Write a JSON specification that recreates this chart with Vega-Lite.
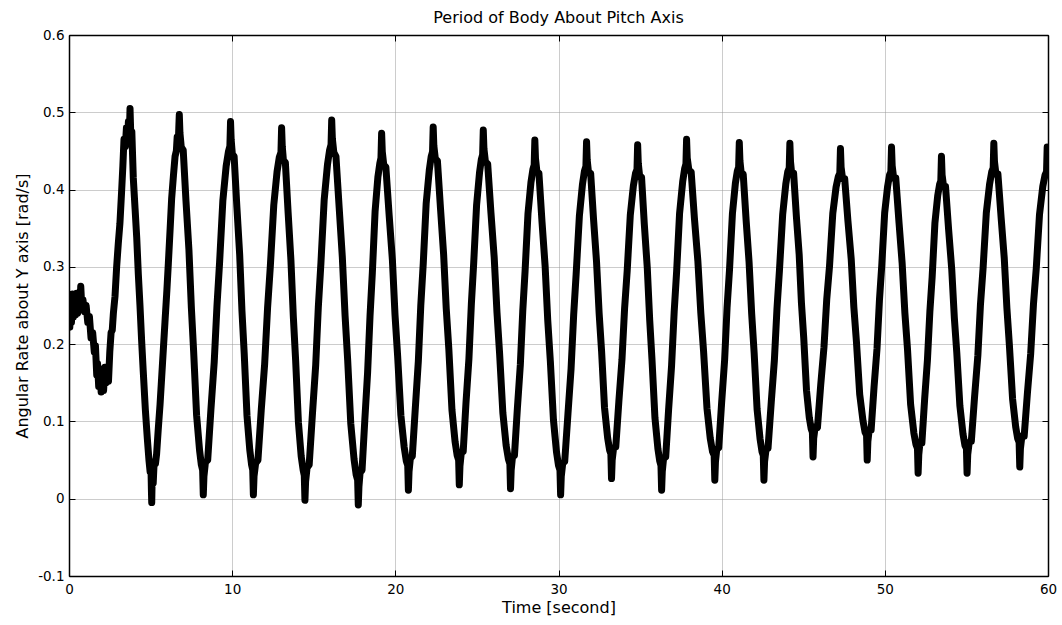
{
  "$schema": "https://vega.github.io/schema/vega-lite/v6.json",
  "width": 979,
  "height": 541,
  "autosize": {"type": "none"},
  "padding": {"left": 69, "top": 35, "right": 14, "bottom": 49},
  "background": "white",
  "title": {"text": "Period of Body About Pitch Axis", "font": "DejaVu Sans", "fontSize": 16, "fontWeight": "normal", "color": "#000000", "anchor": "middle", "baseline": "alphabetic", "offset": -11},
  "config": {
    "view": {"stroke": null},
    "axis": {
      "labelFont": "DejaVu Sans", "labelFontSize": 13.5, "labelColor": "#000000",
      "titleFont": "DejaVu Sans", "titleFontSize": 16, "titleFontWeight": "normal", "titleColor": "#000000",
      "domainColor": "#000000", "domainWidth": 1.5,
      "tickColor": "#000000", "tickWidth": 1, "tickSize": -6,
      "gridColor": "#999999", "gridDash": [1, 1], "gridWidth": 1,
      "labelOverlap": false, "labelBound": false, "labelFlush": false
    }
  },
  "data": {"values": [
    {"t":0.00,"v":0.235},{"t":0.05,"v":0.222},{"t":0.10,"v":0.26},{"t":0.15,"v":0.228},{"t":0.20,"v":0.265},{"t":0.27,"v":0.235},{"t":0.33,"v":0.262},{"t":0.40,"v":0.238},{"t":0.47,"v":0.266},{"t":0.53,"v":0.24},{"t":0.60,"v":0.262},{"t":0.67,"v":0.245},{"t":0.72,"v":0.275},{"t":0.78,"v":0.25},{"t":0.85,"v":0.258},{"t":0.95,"v":0.242},{"t":1.05,"v":0.25},{"t":1.15,"v":0.228},{"t":1.25,"v":0.236},{"t":1.35,"v":0.208},{"t":1.45,"v":0.215},{"t":1.55,"v":0.19},{"t":1.62,"v":0.198},{"t":1.70,"v":0.16},{"t":1.75,"v":0.175},{"t":1.82,"v":0.145},{"t":1.90,"v":0.168},{"t":1.97,"v":0.138},{"t":2.05,"v":0.165},{"t":2.12,"v":0.14},{"t":2.20,"v":0.17},{"t":2.28,"v":0.15},{"t":2.35,"v":0.168},{"t":2.42,"v":0.152},{"t":2.50,"v":0.19},{"t":2.58,"v":0.215},{"t":2.65,"v":0.218},{"t":2.72,"v":0.24},{"t":2.82,"v":0.262},{"t":2.92,"v":0.30},{"t":3.02,"v":0.33},{"t":3.12,"v":0.356},{"t":3.23,"v":0.40},{"t":3.30,"v":0.43},{"t":3.37,"v":0.465},{"t":3.45,"v":0.455},{"t":3.52,"v":0.48},{"t":3.58,"v":0.46},{"t":3.64,"v":0.488},{"t":3.70,"v":0.47},{"t":3.74,"v":0.505},{"t":3.79,"v":0.468},{"t":3.85,"v":0.475},{"t":3.94,"v":0.415},{"t":4.05,"v":0.375},{"t":4.15,"v":0.338},{"t":4.25,"v":0.29},{"t":4.35,"v":0.25},{"t":4.45,"v":0.205},{"t":4.55,"v":0.165},{"t":4.68,"v":0.115},{"t":4.80,"v":0.078},{"t":4.90,"v":0.05},{"t":4.97,"v":0.035},{"t":5.02,"v":0.045},{"t":5.05,"v":0.012},{"t":5.07,"v":-0.005},{"t":5.10,"v":0.03},{"t":5.16,"v":0.02},{"t":5.22,"v":0.048},{"t":5.30,"v":0.045},{"t":5.37,"v":0.058},{"t":5.47,"v":0.09},{"t":5.58,"v":0.122},{"t":5.73,"v":0.175},{"t":5.88,"v":0.228},{"t":6.00,"v":0.27},{"t":6.09,"v":0.305},{"t":6.20,"v":0.35},{"t":6.29,"v":0.388},{"t":6.40,"v":0.418},{"t":6.50,"v":0.443},{"t":6.58,"v":0.45},{"t":6.63,"v":0.468},{"t":6.69,"v":0.455},{"t":6.73,"v":0.48},{"t":6.76,"v":0.497},{"t":6.80,"v":0.473},
    {"t":6.88,"v":0.455},{"t":7.00,"v":0.451},{"t":7.17,"v":0.385},{"t":7.35,"v":0.322},{"t":7.50,"v":0.247},{"t":7.64,"v":0.19},{"t":7.82,"v":0.108},{"t":8.00,"v":0.063},{"t":8.11,"v":0.044},
    {"t":8.19,"v":0.037},{"t":8.23,"v":0.005},{"t":8.27,"v":0.029},
    {"t":8.36,"v":0.047},{"t":8.50,"v":0.05},{"t":8.70,"v":0.116},{"t":8.90,"v":0.177},{"t":9.07,"v":0.25},{"t":9.23,"v":0.306},{"t":9.43,"v":0.386},{"t":9.63,"v":0.43},{"t":9.77,"v":0.449},
    {"t":9.86,"v":0.456},{"t":9.90,"v":0.488},{"t":9.94,"v":0.464},
    {"t":10.01,"v":0.446},{"t":10.12,"v":0.443},{"t":10.29,"v":0.377},{"t":10.46,"v":0.316},{"t":10.60,"v":0.243},{"t":10.74,"v":0.187},{"t":10.91,"v":0.107},{"t":11.08,"v":0.063},{"t":11.19,"v":0.044},
    {"t":11.26,"v":0.037},{"t":11.30,"v":0.005},{"t":11.34,"v":0.029},
    {"t":11.44,"v":0.046},{"t":11.58,"v":0.05},{"t":11.78,"v":0.114},{"t":11.99,"v":0.174},{"t":12.17,"v":0.247},{"t":12.34,"v":0.301},{"t":12.55,"v":0.38},{"t":12.75,"v":0.423},{"t":12.89,"v":0.442},
    {"t":12.99,"v":0.448},{"t":13.03,"v":0.48},{"t":13.07,"v":0.456},
    {"t":13.14,"v":0.438},{"t":13.26,"v":0.435},{"t":13.43,"v":0.37},{"t":13.60,"v":0.309},{"t":13.75,"v":0.235},{"t":13.89,"v":0.179},{"t":14.06,"v":0.099},{"t":14.23,"v":0.055},{"t":14.35,"v":0.037},
    {"t":14.42,"v":0.03},{"t":14.46,"v":-0.002},{"t":14.50,"v":0.022},
    {"t":14.59,"v":0.04},{"t":14.72,"v":0.044},{"t":14.92,"v":0.11},{"t":15.12,"v":0.173},{"t":15.28,"v":0.248},{"t":15.44,"v":0.305},{"t":15.64,"v":0.387},{"t":15.84,"v":0.432},{"t":15.97,"v":0.451},
    {"t":16.06,"v":0.458},{"t":16.10,"v":0.49},{"t":16.14,"v":0.466},
    {"t":16.23,"v":0.448},{"t":16.36,"v":0.443},{"t":16.56,"v":0.376},{"t":16.75,"v":0.313},{"t":16.92,"v":0.237},{"t":17.08,"v":0.179},{"t":17.27,"v":0.097},{"t":17.47,"v":0.051},{"t":17.60,"v":0.031},
    {"t":17.69,"v":0.024},{"t":17.73,"v":-0.008},{"t":17.77,"v":0.016},
    {"t":17.84,"v":0.034},{"t":17.96,"v":0.037},{"t":18.13,"v":0.102},{"t":18.30,"v":0.163},{"t":18.45,"v":0.237},{"t":18.59,"v":0.292},{"t":18.76,"v":0.372},{"t":18.93,"v":0.416},{"t":19.05,"v":0.434},
    {"t":19.12,"v":0.441},{"t":19.16,"v":0.473},{"t":19.20,"v":0.449},
    {"t":19.29,"v":0.432},{"t":19.42,"v":0.429},{"t":19.62,"v":0.367},{"t":19.82,"v":0.309},{"t":19.98,"v":0.238},{"t":20.14,"v":0.185},{"t":20.34,"v":0.108},{"t":20.54,"v":0.067},{"t":20.67,"v":0.049},
    {"t":20.76,"v":0.043},{"t":20.80,"v":0.011},{"t":20.84,"v":0.035},
    {"t":20.92,"v":0.052},{"t":21.04,"v":0.055},{"t":21.23,"v":0.119},{"t":21.41,"v":0.178},{"t":21.56,"v":0.25},{"t":21.71,"v":0.304},{"t":21.89,"v":0.382},{"t":22.08,"v":0.425},{"t":22.20,"v":0.443},
    {"t":22.28,"v":0.449},{"t":22.32,"v":0.481},{"t":22.36,"v":0.457},
    {"t":22.45,"v":0.44},{"t":22.58,"v":0.437},{"t":22.77,"v":0.375},{"t":22.96,"v":0.316},{"t":23.12,"v":0.246},{"t":23.28,"v":0.193},{"t":23.47,"v":0.115},{"t":23.66,"v":0.074},{"t":23.79,"v":0.056},
    {"t":23.88,"v":0.05},{"t":23.92,"v":0.018},{"t":23.96,"v":0.042},
    {"t":24.04,"v":0.059},{"t":24.16,"v":0.061},{"t":24.33,"v":0.124},{"t":24.51,"v":0.181},{"t":24.66,"v":0.252},{"t":24.80,"v":0.304},{"t":24.98,"v":0.38},{"t":25.16,"v":0.422},{"t":25.27,"v":0.439},
    {"t":25.35,"v":0.445},{"t":25.39,"v":0.477},{"t":25.43,"v":0.453},
    {"t":25.52,"v":0.436},{"t":25.66,"v":0.433},{"t":25.86,"v":0.37},{"t":26.06,"v":0.312},{"t":26.23,"v":0.241},{"t":26.39,"v":0.188},{"t":26.59,"v":0.111},{"t":26.79,"v":0.069},{"t":26.93,"v":0.051},
    {"t":27.02,"v":0.045},{"t":27.06,"v":0.013},{"t":27.10,"v":0.037},
    {"t":27.18,"v":0.054},{"t":27.30,"v":0.056},{"t":27.48,"v":0.117},{"t":27.66,"v":0.173},{"t":27.81,"v":0.243},{"t":27.95,"v":0.294},{"t":28.13,"v":0.369},{"t":28.31,"v":0.409},{"t":28.43,"v":0.426},
    {"t":28.51,"v":0.432},{"t":28.55,"v":0.464},{"t":28.59,"v":0.44},
    {"t":28.68,"v":0.423},{"t":28.80,"v":0.421},{"t":28.99,"v":0.358},{"t":29.18,"v":0.301},{"t":29.34,"v":0.231},{"t":29.50,"v":0.178},{"t":29.69,"v":0.102},{"t":29.88,"v":0.06},{"t":30.00,"v":0.043},
    {"t":30.09,"v":0.037},{"t":30.13,"v":0.005},{"t":30.17,"v":0.029},
    {"t":30.26,"v":0.046},{"t":30.38,"v":0.048},{"t":30.58,"v":0.11},{"t":30.77,"v":0.168},{"t":30.93,"v":0.238},{"t":31.08,"v":0.29},{"t":31.28,"v":0.366},{"t":31.47,"v":0.407},{"t":31.59,"v":0.424},
    {"t":31.68,"v":0.43},{"t":31.72,"v":0.462},{"t":31.76,"v":0.438},
    {"t":31.84,"v":0.422},{"t":31.97,"v":0.421},{"t":32.15,"v":0.361},{"t":32.33,"v":0.307},{"t":32.49,"v":0.24},{"t":32.64,"v":0.191},{"t":32.82,"v":0.118},{"t":33.01,"v":0.079},{"t":33.13,"v":0.063},
    {"t":33.21,"v":0.058},{"t":33.25,"v":0.026},{"t":33.29,"v":0.05},
    {"t":33.38,"v":0.066},{"t":33.51,"v":0.067},{"t":33.70,"v":0.126},{"t":33.89,"v":0.18},{"t":34.05,"v":0.246},{"t":34.21,"v":0.295},{"t":34.40,"v":0.367},{"t":34.59,"v":0.405},{"t":34.72,"v":0.421},
    {"t":34.81,"v":0.426},{"t":34.85,"v":0.458},{"t":34.89,"v":0.434},
    {"t":34.97,"v":0.418},{"t":35.09,"v":0.416},{"t":35.26,"v":0.355},{"t":35.44,"v":0.299},{"t":35.59,"v":0.231},{"t":35.73,"v":0.18},{"t":35.91,"v":0.105},{"t":36.09,"v":0.065},{"t":36.20,"v":0.049},
    {"t":36.28,"v":0.043},{"t":36.32,"v":0.011},{"t":36.36,"v":0.035},
    {"t":36.44,"v":0.052},{"t":36.57,"v":0.054},{"t":36.75,"v":0.116},{"t":36.93,"v":0.172},{"t":37.09,"v":0.242},{"t":37.24,"v":0.294},{"t":37.42,"v":0.369},{"t":37.61,"v":0.41},{"t":37.73,"v":0.427},
    {"t":37.81,"v":0.433},{"t":37.85,"v":0.465},{"t":37.89,"v":0.441},
    {"t":37.99,"v":0.425},{"t":38.13,"v":0.423},{"t":38.33,"v":0.363},{"t":38.54,"v":0.308},{"t":38.72,"v":0.241},{"t":38.89,"v":0.191},{"t":39.10,"v":0.117},{"t":39.30,"v":0.078},{"t":39.44,"v":0.061},
    {"t":39.54,"v":0.056},{"t":39.58,"v":0.024},{"t":39.62,"v":0.048},
    {"t":39.70,"v":0.064},{"t":39.82,"v":0.066},{"t":40.00,"v":0.125},{"t":40.18,"v":0.179},{"t":40.33,"v":0.247},{"t":40.48,"v":0.296},{"t":40.66,"v":0.369},{"t":40.84,"v":0.408},{"t":40.96,"v":0.424},
    {"t":41.04,"v":0.429},{"t":41.08,"v":0.461},{"t":41.12,"v":0.437},
    {"t":41.20,"v":0.421},{"t":41.32,"v":0.42},{"t":41.50,"v":0.36},{"t":41.68,"v":0.306},{"t":41.84,"v":0.239},{"t":41.99,"v":0.189},{"t":42.17,"v":0.116},{"t":42.35,"v":0.078},{"t":42.47,"v":0.061},
    {"t":42.55,"v":0.056},{"t":42.59,"v":0.024},{"t":42.63,"v":0.048},
    {"t":42.72,"v":0.064},{"t":42.84,"v":0.065},{"t":43.04,"v":0.125},{"t":43.23,"v":0.179},{"t":43.39,"v":0.246},{"t":43.54,"v":0.295},{"t":43.74,"v":0.368},{"t":43.93,"v":0.407},{"t":44.05,"v":0.423},
    {"t":44.14,"v":0.428},{"t":44.18,"v":0.46},{"t":44.22,"v":0.436},
    {"t":44.29,"v":0.421},{"t":44.41,"v":0.421},{"t":44.58,"v":0.365},{"t":44.75,"v":0.316},{"t":44.89,"v":0.253},{"t":45.03,"v":0.208},{"t":45.20,"v":0.14},{"t":45.37,"v":0.105},{"t":45.49,"v":0.09},
    {"t":45.56,"v":0.086},{"t":45.60,"v":0.054},{"t":45.64,"v":0.078},
    {"t":45.73,"v":0.093},{"t":45.87,"v":0.092},{"t":46.07,"v":0.147},{"t":46.27,"v":0.196},{"t":46.44,"v":0.258},{"t":46.61,"v":0.301},{"t":46.81,"v":0.369},{"t":47.01,"v":0.403},{"t":47.15,"v":0.417},
    {"t":47.24,"v":0.421},{"t":47.28,"v":0.453},{"t":47.32,"v":0.429},
    {"t":47.41,"v":0.414},{"t":47.54,"v":0.414},{"t":47.74,"v":0.359},{"t":47.94,"v":0.31},{"t":48.10,"v":0.248},{"t":48.26,"v":0.203},{"t":48.46,"v":0.135},{"t":48.66,"v":0.101},{"t":48.79,"v":0.086},
    {"t":48.88,"v":0.082},{"t":48.92,"v":0.05},{"t":48.96,"v":0.074},
    {"t":49.04,"v":0.089},{"t":49.16,"v":0.089},{"t":49.34,"v":0.145},{"t":49.52,"v":0.194},{"t":49.67,"v":0.257},{"t":49.81,"v":0.301},{"t":49.99,"v":0.37},{"t":50.17,"v":0.404},{"t":50.29,"v":0.419},
    {"t":50.37,"v":0.423},{"t":50.41,"v":0.455},{"t":50.45,"v":0.431},
    {"t":50.54,"v":0.415},{"t":50.67,"v":0.415},{"t":50.87,"v":0.357},{"t":51.06,"v":0.305},{"t":51.23,"v":0.24},{"t":51.39,"v":0.193},{"t":51.58,"v":0.122},{"t":51.78,"v":0.085},{"t":51.91,"v":0.07},
    {"t":52.00,"v":0.065},{"t":52.04,"v":0.033},{"t":52.08,"v":0.057},
    {"t":52.15,"v":0.072},{"t":52.27,"v":0.072},{"t":52.44,"v":0.129},{"t":52.61,"v":0.179},{"t":52.76,"v":0.242},{"t":52.90,"v":0.287},{"t":53.07,"v":0.357},{"t":53.24,"v":0.392},{"t":53.36,"v":0.407},
    {"t":53.43,"v":0.411},{"t":53.47,"v":0.443},{"t":53.51,"v":0.419},
    {"t":53.60,"v":0.404},{"t":53.72,"v":0.404},{"t":53.91,"v":0.348},{"t":54.10,"v":0.297},{"t":54.26,"v":0.234},{"t":54.41,"v":0.189},{"t":54.60,"v":0.12},{"t":54.79,"v":0.084},{"t":54.91,"v":0.069},
    {"t":55.00,"v":0.065},{"t":55.04,"v":0.033},{"t":55.08,"v":0.057},
    {"t":55.17,"v":0.073},{"t":55.30,"v":0.074},{"t":55.50,"v":0.132},{"t":55.70,"v":0.185},{"t":55.86,"v":0.251},{"t":56.02,"v":0.298},{"t":56.22,"v":0.37},{"t":56.42,"v":0.407},{"t":56.55,"v":0.423},
    {"t":56.64,"v":0.428},{"t":56.68,"v":0.46},{"t":56.72,"v":0.436},
    {"t":56.81,"v":0.42},{"t":56.93,"v":0.42},{"t":57.13,"v":0.363},{"t":57.32,"v":0.311},{"t":57.48,"v":0.247},{"t":57.63,"v":0.2},{"t":57.83,"v":0.129},{"t":58.02,"v":0.093},{"t":58.14,"v":0.078},
    {"t":58.23,"v":0.073},{"t":58.27,"v":0.041},{"t":58.31,"v":0.065},
    {"t":58.40,"v":0.081},{"t":58.54,"v":0.081},{"t":58.74,"v":0.137},{"t":58.94,"v":0.188},{"t":59.11,"v":0.252},{"t":59.28,"v":0.298},{"t":59.48,"v":0.368},{"t":59.68,"v":0.404},{"t":59.82,"v":0.419},
    {"t":59.91,"v":0.423},{"t":59.95,"v":0.455},{"t":60.00,"v":0.44}
  ]},
  "layer": [
    {
      "mark": {"type": "line", "color": "#000000", "strokeWidth": 7, "strokeJoin": "round", "strokeCap": "round", "clip": true},
      "encoding": {
        "x": {"field": "t", "type": "quantitative", "scale": {"domain": [0, 60], "nice": false, "zero": false},
              "axis": {"orient": "bottom", "title": "Time [second]", "values": [0, 10, 20, 30, 40, 50, 60], "format": "d", "grid": true, "labelPadding": 12, "titlePadding": 4}},
        "y": {"field": "v", "type": "quantitative", "scale": {"domain": [-0.1, 0.6], "nice": false, "zero": false},
              "axis": {"orient": "left", "title": "Angular Rate about Y axis [rad/s]", "values": [-0.1, 0, 0.1, 0.2, 0.3, 0.4, 0.5, 0.6], "grid": true, "labelPadding": 11, "titlePadding": 7,
                       "labelExpr": "datum.value == 0 ? '0' : (datum.value < 0 ? '-' + format(-datum.value, '.1f') : format(datum.value, '.1f'))"}}
      }
    },
    {
      "mark": {"type": "point", "opacity": 0},
      "encoding": {
        "x": {"field": "t", "type": "quantitative", "axis": {"orient": "top", "title": null, "labels": false, "grid": false, "values": [0, 10, 20, 30, 40, 50, 60]}},
        "y": {"field": "v", "type": "quantitative", "axis": {"orient": "right", "title": null, "labels": false, "grid": false, "values": [-0.1, 0, 0.1, 0.2, 0.3, 0.4, 0.5, 0.6]}}
      }
    }
  ],
  "resolve": {"axis": {"x": "independent", "y": "independent"}}
}
